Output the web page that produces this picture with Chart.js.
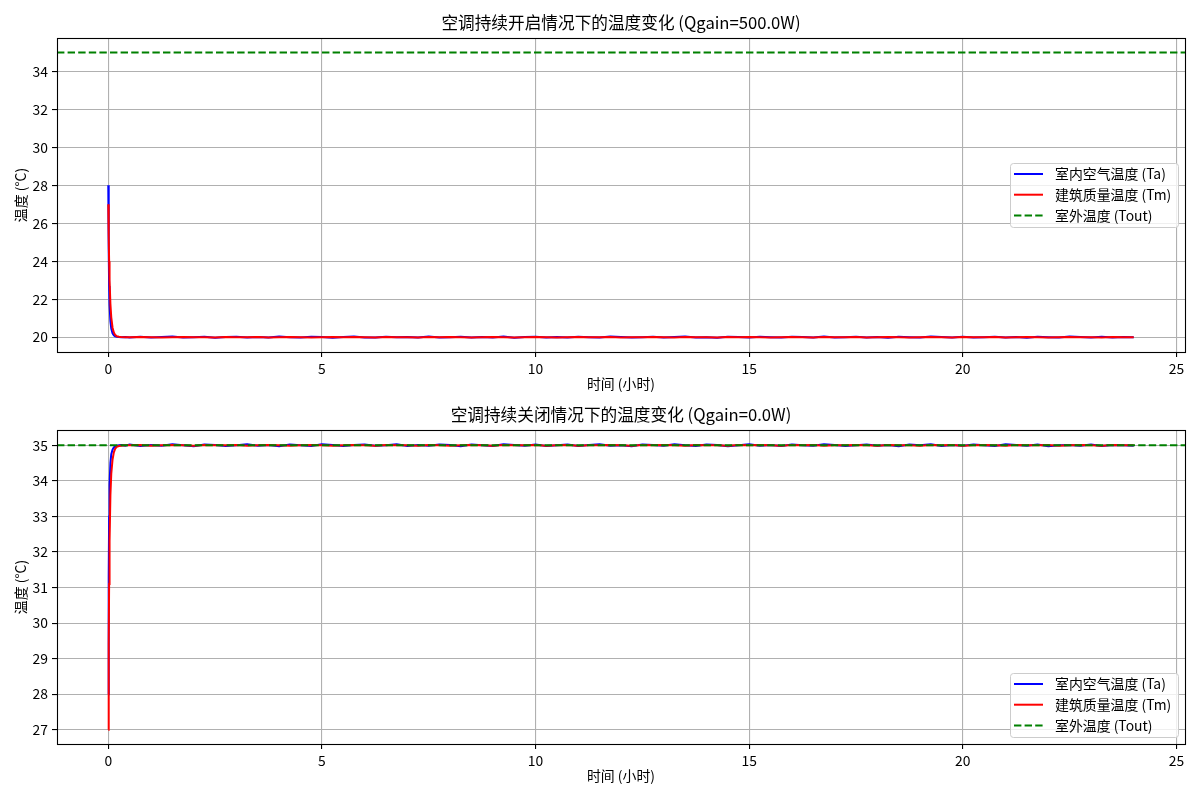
<!DOCTYPE html>
<html><head><meta charset="utf-8">
<script src="https://cdn.jsdelivr.net/npm/chart.js@4/dist/chart.umd.min.js"></script>
<style>
html,body{margin:0;padding:0;background:#fff;overflow:hidden;}
#c1{position:absolute;left:0;top:0;width:1200px;height:392px;}
#c2{position:absolute;left:0;top:392px;width:1200px;height:408px;}
</style>
</head><body>
<canvas id="c1" width="1200" height="392"></canvas>
<canvas id="c2" width="1200" height="408"></canvas>
<script>
// ---- data ----
const timeH = [0,0.01,0.02,0.03,0.05,0.07,0.1,0.13,0.16,0.2,0.25,0.3,0.4,
0.5,0.75,1,1.25,1.5,1.75,2,2.25,2.5,2.75,
3,3.25,3.5,3.75,4,4.25,4.5,4.75,5,5.25,
5.5,5.75,6,6.25,6.5,6.75,7,7.25,7.5,7.75,
8,8.25,8.5,8.75,9,9.25,9.5,9.75,10,10.25,
10.5,10.75,11,11.25,11.5,11.75,12,12.25,12.5,12.75,
13,13.25,13.5,13.75,14,14.25,14.5,14.75,15,15.25,
15.5,15.75,16,16.25,16.5,16.75,17,17.25,17.5,17.75,
18,18.25,18.5,18.75,19,19.25,19.5,19.75,20,20.25,
20.5,20.75,21,21.25,21.5,21.75,22,22.25,22.5,22.75,
23,23.25,23.5,23.75,24];

const taOn = [28.0,24.6,22.7,21.7,20.85,20.45,20.2,20.1,20.05,20.02,20.01,20.0,20.01,
19.99,20.02,19.98,20.01,20.03,19.98,20.00,20.02,19.97,20.01,
20.02,19.99,20.01,19.98,20.03,20.00,19.98,20.02,20.01,19.97,
20.01,20.03,19.99,19.98,20.02,20.00,20.01,19.98,20.03,19.99,
20.00,20.02,19.98,20.01,19.99,20.03,19.97,20.01,20.02,19.99,
20.01,19.98,20.02,20.00,19.99,20.03,20.01,19.98,20.00,20.02,
19.98,20.01,20.03,19.99,20.00,19.97,20.02,20.01,19.99,20.02,
20.00,19.98,20.02,20.01,19.99,20.03,19.98,20.00,20.02,19.99,
20.01,19.97,20.02,20.00,19.98,20.03,20.01,19.99,20.02,19.98,
20.00,20.02,19.99,20.01,19.97,20.02,20.00,19.98,20.03,20.01,
19.99,20.02,19.98,20.01,20.00];

const tmOn = [27.0,25.3,24.0,23.0,21.75,21.05,20.5,20.25,20.12,20.05,20.02,20.01,20.0,
20.00,20.01,20.00,19.99,20.00,20.01,20.00,20.00,19.99,20.01,
20.00,20.00,20.01,19.99,20.00,20.01,20.00,19.99,20.00,20.01,
20.00,20.01,20.00,19.99,20.01,20.00,20.00,19.99,20.01,20.00,
20.01,20.00,19.99,20.00,20.01,20.00,19.99,20.00,20.01,20.00,
19.99,20.00,20.01,20.00,20.00,20.01,19.99,20.00,20.00,20.01,
20.00,19.99,20.01,20.00,20.00,19.99,20.01,20.00,20.01,20.00,
19.99,20.00,20.01,20.00,19.99,20.01,20.00,20.00,20.01,19.99,
20.00,20.01,20.00,19.99,20.00,20.01,20.00,19.99,20.01,20.00,
20.00,20.01,19.99,20.00,20.01,20.00,19.99,20.00,20.01,20.00,
20.00,19.99,20.01,20.00,20.00];

const taOff = [28.0,31.3,33.0,33.9,34.5,34.75,34.88,34.94,34.97,34.99,35.0,35.01,34.99,
35.02,34.98,35.01,34.99,35.03,35.00,34.97,35.02,35.01,34.98,
35.00,35.03,34.99,35.01,34.97,35.02,35.00,34.98,35.03,35.01,
34.98,35.01,35.02,34.99,35.00,35.03,34.98,35.01,34.99,35.02,
35.01,34.97,35.02,35.00,34.98,35.03,35.01,34.99,35.02,34.98,
35.00,35.02,34.98,35.01,35.03,34.99,35.00,34.97,35.02,35.01,
34.99,35.03,35.00,34.98,35.02,35.01,34.97,35.00,35.03,34.99,
35.01,34.98,35.02,35.00,34.99,35.03,35.01,34.98,35.00,35.02,
34.99,35.01,34.97,35.02,35.00,35.03,34.98,35.01,34.99,35.02,
35.00,34.98,35.03,35.01,34.99,35.02,34.97,35.00,35.01,34.99,
35.02,34.98,35.01,35.00,34.99];

const tmOff = [27.0,29.4,31.1,32.3,33.6,34.2,34.6,34.8,34.9,34.96,34.98,34.99,35.0,
35.00,35.01,34.99,35.00,35.01,35.00,34.99,35.01,35.00,35.00,
35.01,34.99,35.00,35.01,35.00,34.99,35.00,35.01,35.00,34.99,
35.00,35.01,35.00,34.99,35.01,35.00,35.00,34.99,35.01,35.00,
34.99,35.00,35.01,35.00,34.99,35.01,35.00,35.00,35.01,34.99,
35.00,35.01,34.99,35.00,35.00,35.01,35.00,34.99,35.01,35.00,
35.01,35.00,34.99,35.01,35.00,35.00,34.99,35.01,35.00,35.01,
35.00,34.99,35.01,35.00,35.01,34.99,35.00,35.00,35.01,35.00,
34.99,35.01,35.00,35.00,34.99,35.01,35.00,35.01,34.99,35.00,
35.01,35.00,34.99,35.01,35.00,35.00,35.01,34.99,35.00,35.01,
35.00,34.99,35.01,35.00,35.00];

const tOut = 35;
const xTicks = [0,5,10,15,20,25];
const yTicksOn = [20,22,24,26,28,30,32,34];
const yTicksOff = [27,28,29,30,31,32,33,34,35];
const seriesLabels = ['室内空气温度 (Ta)','建筑质量温度 (Tm)','室外温度 (Tout)'];
const titleOn = '空调持续开启情况下的温度变化 (Qgain=500.0W)';
const titleOff = '空调持续关闭情况下的温度变化 (Qgain=0.0W)';
const xLabel = '时间 (小时)';
const yLabel = '温度 (°C)';

// ---- drawing ----
const FONT = "'Noto Sans CJK SC', 'DejaVu Sans', sans-serif";
const X_MIN = -1.2, X_MAX = 25.2;
const COLORS = ['#0000ff','#ff0000','#008000'];

function decorPlugin(title, legendTop) {
  return {
    id: 'decor',
    afterDraw(chart) {
      const ctx = chart.ctx, a = chart.chartArea;
      ctx.save();
      // frame
      ctx.strokeStyle = '#000'; ctx.lineWidth = 1.1;
      ctx.strokeRect(Math.round(a.left)+0.5, Math.round(a.top)+0.5, Math.round(a.right-a.left), Math.round(a.bottom-a.top));
      // title
      ctx.fillStyle = '#000';
      ctx.font = '16.67px ' + FONT;
      ctx.textAlign = 'center'; ctx.textBaseline = 'middle';
      ctx.fillText(title, (a.left + a.right)/2, a.top - 15.5);
      // legend
      const lx = 1010, lw = 168, lh = 64, ly = legendTop;
      ctx.globalAlpha = 0.8;
      ctx.fillStyle = '#fff';
      ctx.beginPath();
      ctx.roundRect(lx+0.5, ly+0.5, lw, lh, 3);
      ctx.fill();
      ctx.globalAlpha = 1;
      ctx.strokeStyle = '#cccccc'; ctx.lineWidth = 1;
      ctx.stroke();
      ctx.font = '13.9px ' + FONT;
      ctx.textAlign = 'left'; ctx.textBaseline = 'middle';
      for (let i = 0; i < 3; i++) {
        const yy = ly + 11 + i * 20.7;
        ctx.strokeStyle = COLORS[i]; ctx.lineWidth = 2;
        ctx.setLineDash(i === 2 ? [7.4, 3.2] : []);
        ctx.beginPath(); ctx.moveTo(lx + 4, yy); ctx.lineTo(lx + 33, yy); ctx.stroke();
        ctx.setLineDash([]);
        ctx.fillStyle = '#000';
        ctx.fillText(seriesLabels[i], lx + 45, yy);
      }
      ctx.restore();
    }
  };
}

function makeChart(id, title, ta, tm, yMin, yMax, yTicks, padBottom, legendTop) {
  const pts = arr => timeH.map((t, i) => ({x: t, y: arr[i]}));
  return new Chart(document.getElementById(id), {
    type: 'line',
    data: { datasets: [
      {label: seriesLabels[0], data: pts(ta), borderColor: COLORS[0], borderWidth: 2, pointRadius: 0, tension: 0, order: 3},
      {label: seriesLabels[1], data: pts(tm), borderColor: COLORS[1], borderWidth: 2, pointRadius: 0, tension: 0, order: 2},
      {label: seriesLabels[2], data: [{x: X_MIN, y: tOut}, {x: X_MAX, y: tOut}], borderColor: COLORS[2], borderWidth: 2, borderDash: [7.4, 3.2], pointRadius: 0, tension: 0, order: 1}
    ]},
    options: {
      responsive: false, animation: false, clip: false,
      layout: {padding: {left: 0, right: 15, top: 38, bottom: padBottom}},
      plugins: {legend: {display: false}, title: {display: false}, tooltip: {enabled: false}},
      scales: {
        x: {
          type: 'linear', min: X_MIN, max: X_MAX,
          afterBuildTicks: s => { s.ticks = xTicks.map(v => ({value: v})); },
          afterFit: s => { s.height = 40; },
          grid: {color: '#b0b0b0', lineWidth: 1.1, tickLength: 5, tickColor: '#000', tickWidth: 1.1},
          border: {display: false},
          ticks: {color: '#000', font: {family: FONT, size: 13.9}, padding: 3, maxRotation: 0, autoSkip: false},
          title: {display: true, text: xLabel, color: '#000', font: {family: FONT, size: 13.9}, padding: {top: 0, bottom: 0}}
        },
        y: {
          type: 'linear', min: yMin, max: yMax,
          afterBuildTicks: s => { s.ticks = yTicks.map(v => ({value: v})); },
          afterFit: s => { s.width = 57; },
          grid: {color: '#b0b0b0', lineWidth: 1.1, tickLength: 5, tickColor: '#000', tickWidth: 1.1},
          border: {display: false},
          ticks: {color: '#000', font: {family: FONT, size: 13.9}, padding: 4, autoSkip: false},
          title: {display: true, text: yLabel, color: '#000', font: {family: FONT, size: 13.9}, padding: {top: 12, bottom: 0}}
        }
      }
    },
    plugins: [decorPlugin(title, legendTop)]
  });
}

makeChart('c1', titleOn, taOn, tmOn, 19.22, 35.76, yTicksOn, 0, 163);
makeChart('c2', titleOff, taOff, tmOff, 26.6, 35.43, yTicksOff, 16, 673 - 392);
</script>
</body></html>
